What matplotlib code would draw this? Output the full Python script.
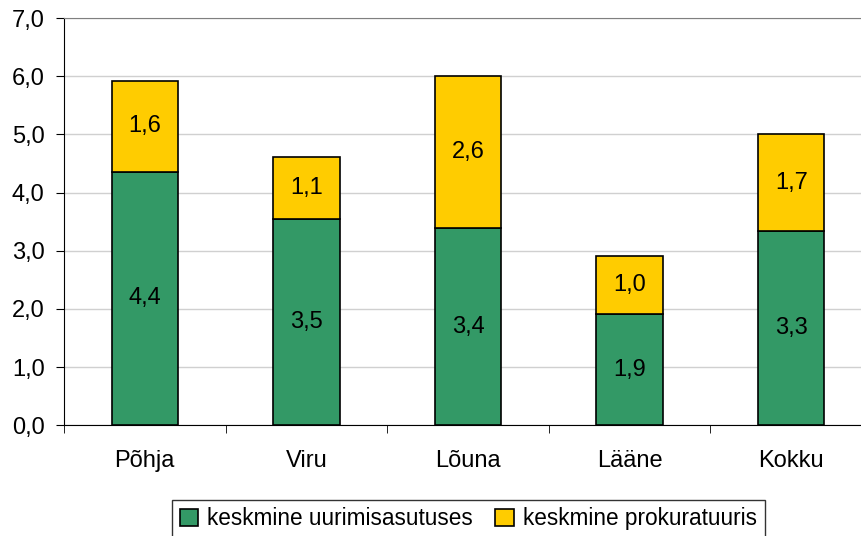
import matplotlib
matplotlib.use('Agg')
import matplotlib.pyplot as plt
import numpy as np

regions = ['Põhja', 'Viru', 'Lõuna', 'Lääne', 'Kokku']
uurimisasutuses = [4.36, 3.54, 3.39, 1.91, 3.34]
prokuratuuris = [1.56, 1.07, 2.61, 1.00, 1.66]

GREEN = '#339966'
YELLOW = '#FFCC00'
FS = 17

plt.rcParams['font.family'] = ['Liberation Sans', 'DejaVu Sans']

fig = plt.figure(figsize=(8.61, 5.36), dpi=100)
ax = fig.add_axes([64 / 861, (536 - 425.3) / 536, 808 / 861, (425.3 - 18) / 536])

x = np.arange(len(regions))
w = 0.41
b1 = ax.bar(x, uurimisasutuses, w, color=GREEN, edgecolor='black', linewidth=1.2,
            label='keskmine uurimisasutuses', zorder=3)
b2 = ax.bar(x, prokuratuuris, w, bottom=uurimisasutuses, color=YELLOW, edgecolor='black',
            linewidth=1.2, label='keskmine prokuratuuris', zorder=3)

def fmt(v):
    return f'{v:.1f}'.replace('.', ',')

for xi, g, y in zip(x, uurimisasutuses, prokuratuuris):
    ax.text(xi, g / 2, fmt(g), ha='center', va='center', fontsize=FS, zorder=4)
    ax.text(xi, g + y / 2, fmt(y), ha='center', va='center', fontsize=FS, zorder=4)

ax.set_xlim(-0.5, len(regions) - 0.5)
ax.set_ylim(0, 7)
ax.set_yticks(np.arange(0, 7.01, 1.0))
ax.set_yticklabels([fmt(v) for v in np.arange(0, 7.01, 1.0)], fontsize=FS)
ax.set_xticks(x)
ax.set_xticklabels(regions, fontsize=FS)
ax.set_xticks(np.arange(-0.5, len(regions), 1.0), minor=True)
ax.tick_params(axis='x', which='major', length=0, pad=18)
ax.tick_params(axis='x', which='minor', length=6, direction='out', color='black')
ax.tick_params(axis='y', length=6, direction='out', pad=8)

ax.grid(axis='y', color='#d0d0d0', linewidth=1, zorder=0)
ax.set_axisbelow(True)
ax.spines['right'].set_visible(False)
ax.spines['top'].set_color('#808080')
ax.spines['left'].set_color('black')
ax.spines['bottom'].set_color('black')

leg = fig.legend(handles=[b1, b2], loc='upper left',
                 bbox_to_anchor=(172 / 861, (536 - 499.5) / 536),
                 ncol=2, fontsize=16.3, frameon=True, fancybox=False,
                 edgecolor='black', handlelength=0.8, handleheight=0.8,
                 handletextpad=0.4, columnspacing=1.0, borderpad=0.35,
                 borderaxespad=0)
leg.get_frame().set_linewidth(1.0)

fig.savefig('out.png', dpi=100)
